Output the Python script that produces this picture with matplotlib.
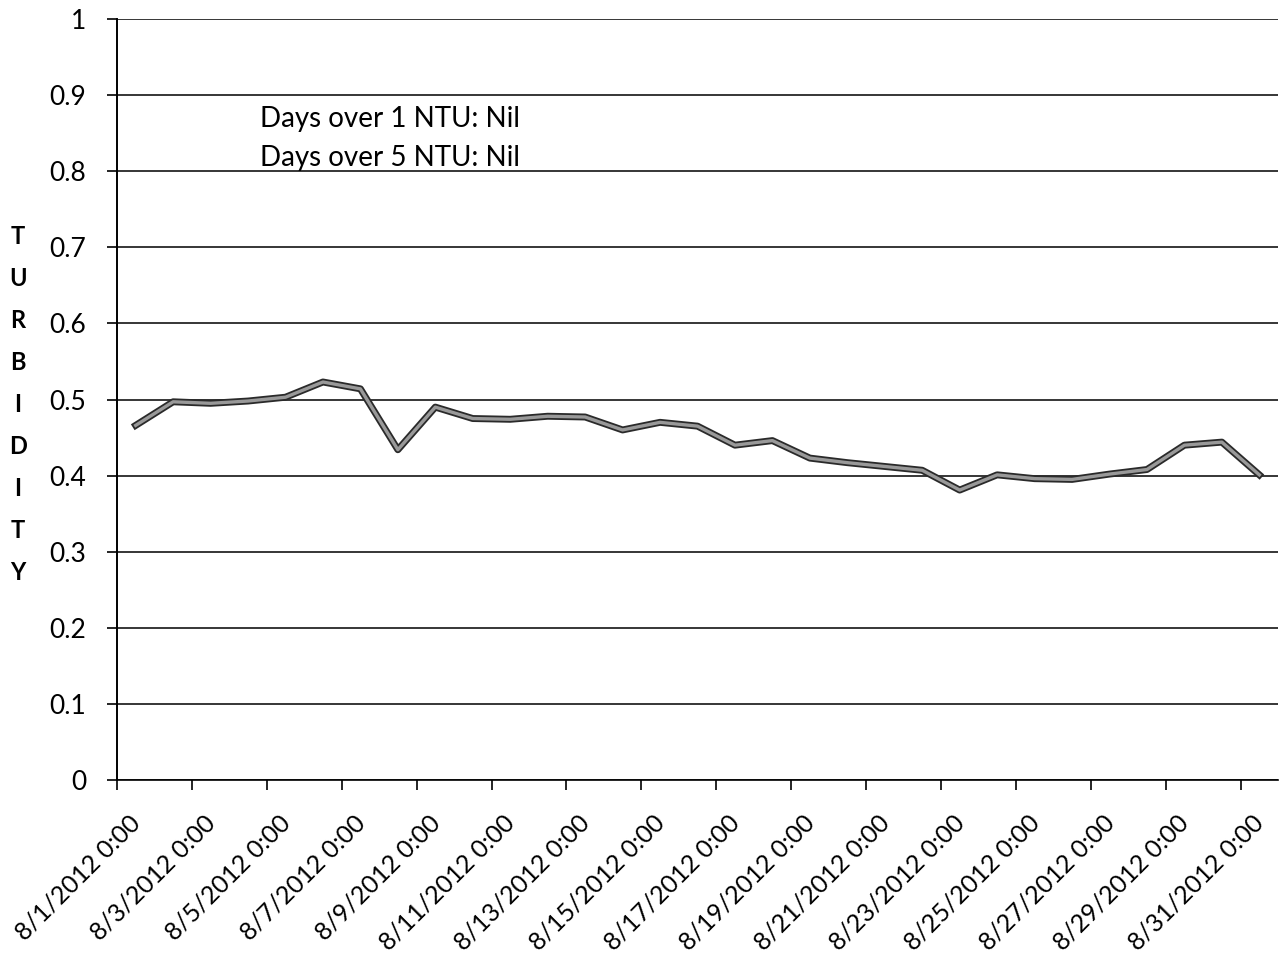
import matplotlib
matplotlib.use("Agg")
import matplotlib.pyplot as plt
import matplotlib.patheffects as pe
import pandas as pd

# daily turbidity readings, August 2012
dates = pd.date_range("2012-08-01 12:00", periods=31, freq="D")
turbidity = [0.466, 0.497, 0.495, 0.498, 0.503, 0.523, 0.514, 0.434, 0.490, 0.475,
             0.474, 0.478, 0.477, 0.460, 0.470, 0.465, 0.440, 0.446, 0.423, 0.417,
             0.412, 0.407, 0.381, 0.401, 0.396, 0.395, 0.402, 0.408, 0.440, 0.444,
             0.401]
y_ticks = [0, 0.1, 0.2, 0.3, 0.4, 0.5, 0.6, 0.7, 0.8, 0.9, 1]
y_tick_labels = ["0", "0.1", "0.2", "0.3", "0.4", "0.5", "0.6", "0.7", "0.8", "0.9", "1"]
x_ticks = pd.date_range("2012-08-01", "2012-08-31", freq="2D")
x_tick_labels = [f"{d.month}/{d.day}/{d.year} 0:00" for d in x_ticks]
notes = ["Days over 1 NTU: Nil", "Days over 5 NTU: Nil"]

plt.rcParams["font.family"] = ["Lato", "DejaVu Sans"]

fig = plt.figure(figsize=(12.81, 9.6), dpi=100)
ax = fig.add_axes([0.0913, 0.1875, 0.9064, 0.7927])

ax.plot(dates, turbidity, color="#999999", linewidth=2.4,
        path_effects=[pe.Stroke(linewidth=5, foreground="#2a2a2a"), pe.Normal()])

ax.set_ylim(0, 1)
ax.set_xlim(pd.Timestamp("2012-08-01"), pd.Timestamp("2012-09-01"))
ax.set_yticks(y_ticks)
ax.set_yticklabels(y_tick_labels, fontsize=19)
ax.yaxis.grid(True, color="black", linewidth=1.1)
ax.set_axisbelow(True)

# x tick labels drawn by hand so they sit like Excel's rotated labels
ax.set_xticks(x_ticks)
ax.set_xticklabels([])
for d, lbl in zip(x_ticks, x_tick_labels):
    ax.annotate(lbl, xy=(d, 0), xycoords=("data", "axes fraction"),
                xytext=(14, -28), textcoords="offset points",
                fontsize=18, rotation=45, ha="right", va="center",
                rotation_mode="anchor")

ax.tick_params(axis="both", direction="out", length=7, width=1.2, color="black")
ax.tick_params(axis="y", pad=15)
for side in ["top", "right"]:
    ax.spines[side].set_visible(False)
ax.spines["left"].set_linewidth(1.4)
ax.spines["bottom"].set_linewidth(1.2)

ax.text(0.123, 0.8585, notes[0], transform=ax.transAxes, fontsize=20, va="baseline")
ax.text(0.123, 0.807, notes[1], transform=ax.transAxes, fontsize=20, va="baseline")

fig.text(18 / 1281, 1 - 404 / 960, "\n".join("TURBIDITY"), fontsize=17,
         fontweight="bold", ha="center", va="center", linespacing=2.0)

plt.savefig("out.png", dpi=100)
plt.close()
